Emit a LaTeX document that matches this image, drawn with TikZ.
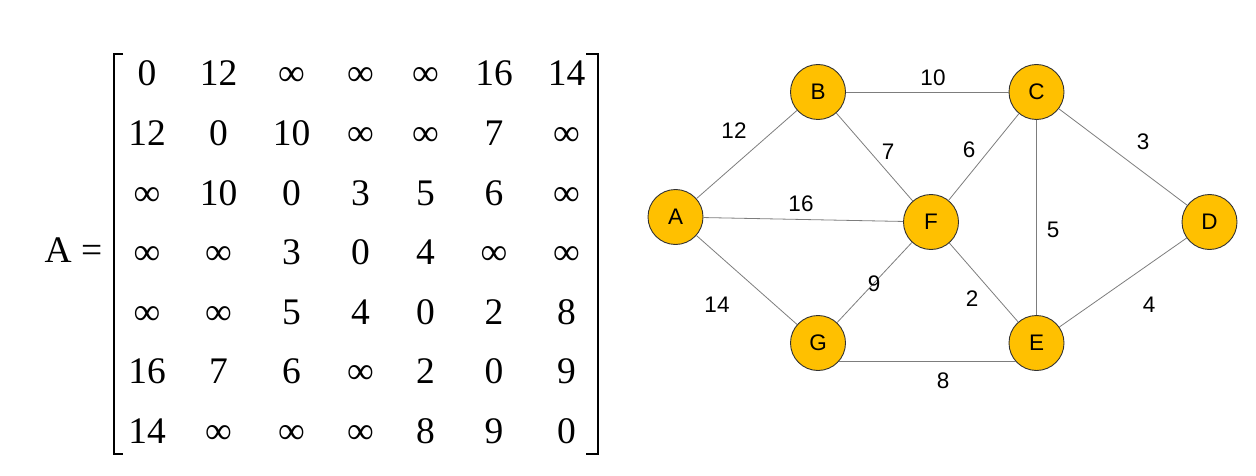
\documentclass[tikz,border=0pt]{standalone}
\usepackage{fontspec}
\newfontfamily\mfont{Liberation Serif}
\newfontfamily\gfont{Liberation Sans}
\definecolor{nodefill}{RGB}{255,192,0}
\definecolor{edgecol}{RGB}{125,125,125}
\tikzset{
  entry/.style={anchor=base, inner sep=0pt, font=\mfont\fontsize{37.5}{37.5}\selectfont},
  bracket/.style={line width=2pt, line cap=butt, line join=miter},
  vertex/.style={circle, draw={rgb,255:red,50;green,50;blue,50}, line width=0.9pt, fill=nodefill, minimum size=55pt, inner sep=0pt, font=\gfont\fontsize{22.5}{22.5}\selectfont},
  edge/.style={draw=edgecol, line width=0.8pt},
  wlabel/.style={inner sep=0pt, font=\gfont\fontsize{22.5}{22.5}\selectfont}
}
\begin{document}
\begin{tikzpicture}[x=1pt,y=-1pt]
\useasboundingbox (0,0) rectangle (1256,476);
% matrix
\node[entry, anchor=base west] (Aeq) at (44.5,262) {A =};
\foreach \row [count=\r] in {{0,12,∞,∞,∞,16,14},{12,0,10,∞,∞,7,∞},{∞,10,0,3,5,6,∞},{∞,∞,3,0,4,∞,∞},{∞,∞,5,4,0,2,8},{16,7,6,∞,2,0,9},{14,∞,∞,∞,8,9,0}} {
  \foreach \v [count=\c] in \row {
    \pgfmathsetmacro{\xx}{{147,218.5,291.5,360.5,425.5,494,566.5}[\c-1]}
    \pgfmathsetmacro{\yy}{86+(\r-1)*59.5}
    \node[entry] (m-\r-\c) at (\xx,\yy) {\v};
  }
}
\draw[bracket] (123,54) -- (114,54) -- (114,454) -- (123,454);
\draw[bracket] (586,54) -- (598,54) -- (598,454) -- (586,454);
% graph
\node[vertex] (A) at (675.5,217) {A};
\node[vertex] (B) at (818,92) {B};
\node[vertex] (C) at (1036.5,92) {C};
\node[vertex] (D) at (1209.5,222) {D};
\node[vertex] (F) at (931,222) {F};
\node[vertex] (G) at (818,343) {G};
\node[vertex] (E) at (1036.5,343) {E};
\path[edge] (A) -- (B);
\path[edge] (A) -- (F);
\path[edge] (A) -- (G);
\path[edge] (B) -- (C);
\path[edge] (B) -- (F);
\path[edge] (C) -- (F);
\path[edge] (C) -- (E);
\path[edge] (C) -- (D);
\path[edge] (D) -- (E);
\path[edge] (F) -- (G);
\path[edge] (F) -- (E);
\path[edge] (G.-42) -- (E.-138);
% weights
\node[wlabel] (w10) at (933,78) {10};
\node[wlabel] (w12) at (734,131) {12};
\node[wlabel] (w7) at (888,152) {7};
\node[wlabel] (w6) at (969,150) {6};
\node[wlabel] (w3) at (1143,142) {3};
\node[wlabel] (w16) at (801,204) {16};
\node[wlabel] (w5) at (1053,230) {5};
\node[wlabel] (w9) at (874,284) {9};
\node[wlabel] (w2) at (972,299) {2};
\node[wlabel] (w14) at (717,305) {14};
\node[wlabel] (w4) at (1149,305) {4};
\node[wlabel] (w8) at (943,381) {8};
\end{tikzpicture}
\end{document}
